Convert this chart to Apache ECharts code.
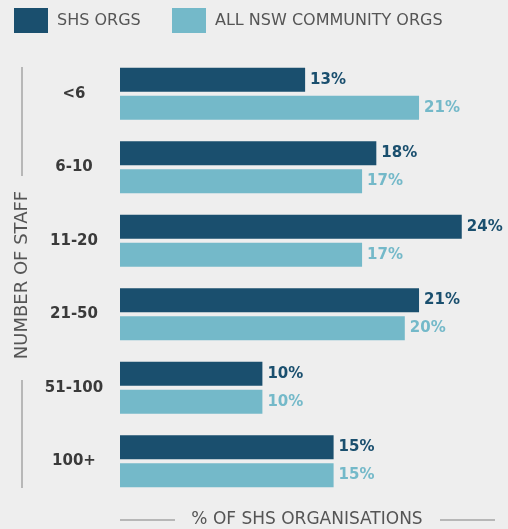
<!DOCTYPE html>
<html>
<head>
<meta charset="utf-8">
<script src="https://cdn.jsdelivr.net/npm/echarts@6/dist/echarts.min.js"></script>
<style>
html,body{margin:0;padding:0;background:#eeeeee;}
#c{width:508px;height:529px;}
</style>
</head>
<body>
<div id="c"></div>
<script>
const categories = ['<6', '6-10', '11-20', '21-50', '51-100', '100+'];
const shsOrgs = [13, 18, 24, 21, 10, 15];
const allNswOrgs = [21, 17, 17, 20, 10, 15];
const seriesNames = ['SHS ORGS', 'ALL NSW COMMUNITY ORGS'];
const yTitle = 'NUMBER OF STAFF';
const xTitle = '% OF SHS ORGANISATIONS';

const DARK = '#1a4f6e';
const LIGHT = '#74b9c9';
const FONT = 'DejaVu Sans';

const legendCommon = {
  top: 8, padding: 0,
  icon: 'rect',
  itemWidth: 34, itemHeight: 25,
  textStyle: {fontSize: 16, color: '#555555', fontFamily: FONT, padding: [0, 0, 0, 4]}
};

const chart = echarts.init(document.getElementById('c'), null, {renderer: 'canvas'});
chart.setOption({
  backgroundColor: '#eeeeee',
  animation: false,
  textStyle: {fontFamily: FONT},
  legend: [
    Object.assign({left: 14, data: [seriesNames[0]]}, legendCommon),
    Object.assign({left: 172, data: [seriesNames[1]]}, legendCommon)
  ],
  grid: {left: 120, right: 32, top: 57, bottom: 31, containLabel: false},
  xAxis: {
    type: 'value', min: 0, max: 25,
    show: false
  },
  yAxis: {
    type: 'category', inverse: true, data: categories,
    axisLine: {show: false}, axisTick: {show: false},
    axisLabel: {fontSize: 15, fontWeight: 'bold', color: '#3a3a3a', align: 'center', margin: 46, fontFamily: FONT}
  },
  series: [
    {
      name: seriesNames[0], type: 'bar', data: shsOrgs,
      itemStyle: {color: DARK},
      barWidth: 24, barGap: '16.7%', barCategoryGap: '29%',
      label: {show: true, position: 'right', distance: 5, formatter: '{c}%', fontSize: 15, fontWeight: 'bold', color: DARK, fontFamily: FONT}
    },
    {
      name: seriesNames[1], type: 'bar', data: allNswOrgs,
      itemStyle: {color: LIGHT},
      barWidth: 24, barGap: '16.7%', barCategoryGap: '29%',
      label: {show: true, position: 'right', distance: 5, formatter: '{c}%', fontSize: 15, fontWeight: 'bold', color: LIGHT, fontFamily: FONT}
    }
  ],
  graphic: [
    {type: 'line', shape: {x1: 22, y1: 67, x2: 22, y2: 176}, style: {stroke: '#808080', lineWidth: 1}},
    {type: 'line', shape: {x1: 22, y1: 380, x2: 22, y2: 488}, style: {stroke: '#808080', lineWidth: 1}},
    {type: 'text', x: 22, y: 275, rotation: Math.PI / 2,
      style: {text: yTitle, fontSize: 18, fill: '#555555', fontFamily: FONT, textAlign: 'center', textVerticalAlign: 'middle'}},
    {type: 'line', shape: {x1: 120, y1: 520, x2: 175, y2: 520}, style: {stroke: '#808080', lineWidth: 1}},
    {type: 'line', shape: {x1: 440, y1: 520, x2: 495, y2: 520}, style: {stroke: '#808080', lineWidth: 1}},
    {type: 'text', x: 307, y: 520,
      style: {text: xTitle, fontSize: 17, fill: '#555555', fontFamily: FONT, textAlign: 'center', textVerticalAlign: 'middle'}}
  ]
});
</script>
</body>
</html>
